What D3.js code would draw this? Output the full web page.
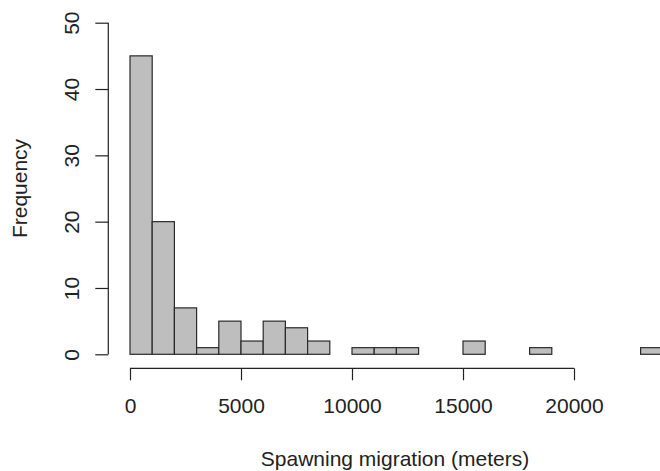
<!DOCTYPE html>
<html>
<head>
<meta charset="utf-8">
<script src="https://cdn.jsdelivr.net/npm/d3@7"></script>
<style>
  html, body { margin: 0; padding: 0; background: #fff; }
  svg { display: block; font-family: "Liberation Sans", Arial, sans-serif; }
</style>
</head>
<body>
<svg id="chart" width="660" height="471"></svg>
<script>
// Bin lower edges (meters), bin width 1000
const binStarts = [0, 1000, 2000, 3000, 4000, 5000, 6000, 7000, 8000, 9000, 10000, 11000,
                   12000, 13000, 14000, 15000, 16000, 17000, 18000, 19000, 20000, 21000, 22000, 23000];
const binWidth = 1000;
// Frequencies per bin
const counts = [45, 20, 7, 1, 5, 2, 5, 4, 2, 0, 1, 1, 1, 0, 0, 2, 0, 0, 1, 0, 0, 0, 0, 1];
const xTicks = [0, 5000, 10000, 15000, 20000];
const yTicks = [0, 10, 20, 30, 40, 50];
const xLabel = "Spawning migration (meters)";
const yLabel = "Frequency";

const svg = d3.select("#chart");
const x = d3.scaleLinear().domain([0, 20000]).range([130, 574]);
const y = d3.scaleLinear().domain([0, 50]).range([354.3, 22.7]);
const ink = "#222";
const fontSize = 21;

// bars
svg.append("g").selectAll("rect")
  .data(binStarts.map((s, i) => ({ s, c: counts[i] })))
  .join("rect")
  .attr("x", d => x(d.s))
  .attr("width", d => x(d.s + binWidth) - x(d.s))
  .attr("y", d => y(d.c))
  .attr("height", d => y(0) - y(d.c))
  .attr("fill", "#bebebe")
  .attr("stroke", "#2a2a2a")
  .attr("stroke-width", 1.2);

// x axis
const xAxis = svg.append("g").attr("transform", "translate(0,368.3)")
  .call(d3.axisBottom(x).tickValues(xTicks).tickSize(12).tickPadding(0).tickFormat(d3.format("d")));
xAxis.select(".domain").attr("stroke", ink).attr("stroke-width", 1.2).attr("d", `M${x(0)},0H${x(20000)}`);
xAxis.selectAll(".tick line").attr("stroke", ink).attr("stroke-width", 1.2);
xAxis.selectAll(".tick text")
  .attr("y", 45).attr("dy", null)
  .attr("fill", ink).style("font-size", fontSize + "px").style("font-family", "'Liberation Sans', Arial, sans-serif");

// y axis
const yAxis = svg.append("g").attr("transform", "translate(108.3,0)")
  .call(d3.axisLeft(y).tickValues(yTicks).tickSize(13).tickPadding(0));
yAxis.select(".domain").attr("stroke", ink).attr("stroke-width", 1.2).attr("d", `M0,${y(0)}V${y(50)}`);
yAxis.selectAll(".tick line").attr("stroke", ink).attr("stroke-width", 1.2);
yAxis.selectAll(".tick text")
  .attr("x", null).attr("dy", null)
  .attr("text-anchor", "middle")
  .attr("transform", "translate(-29.5,0) rotate(-90)")
  .attr("fill", ink).style("font-size", fontSize + "px").style("font-family", "'Liberation Sans', Arial, sans-serif");

// axis titles
svg.append("text")
  .attr("x", (x(0) + x(20000)) / 2 + 43).attr("y", 465.5)
  .attr("text-anchor", "middle").attr("fill", ink)
  .style("font-size", fontSize + "px")
  .text(xLabel);

svg.append("text")
  .attr("transform", `translate(27,${(y(0) + y(50)) / 2}) rotate(-90)`)
  .attr("text-anchor", "middle").attr("fill", ink)
  .style("font-size", fontSize + "px")
  .text(yLabel);
</script>
</body>
</html>
